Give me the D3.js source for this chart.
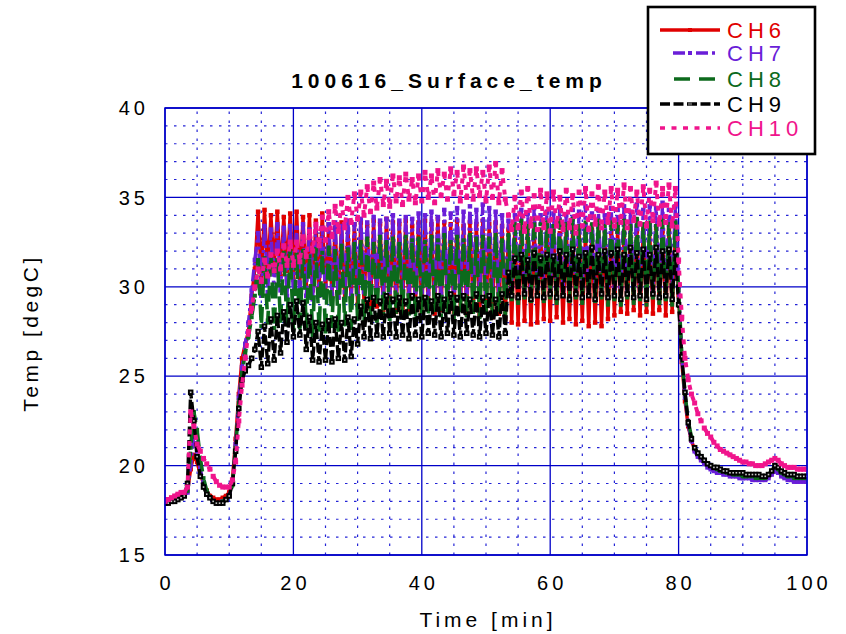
<!DOCTYPE html>
<html>
<head>
<meta charset="utf-8">
<script src="https://cdnjs.cloudflare.com/ajax/libs/d3/7.8.5/d3.min.js"></script>
<style>
body { margin: 0; background: #fff; }
#chart { width: 846px; height: 634px; }
text { font-family: "Liberation Sans", Arial, sans-serif; }
</style>
</head>
<body>
<div id="chart"></div>
<script>
// one sample every half minute, from 0 to 100 min
var timeStep = 0.5;

var ch6 = [
    18.1, 18.1, 18.2, 18.2, 18.2, 18.3, 18.4, 18.6, 19.8, 20.6, 20.2, 19.5, 19.0, 18.6, 18.3, 18.2, 18.1, 18.1, 18.2, 18.3,
    18.5, 19.2, 21.5, 24.0, 26.0, 26.8, 27.5, 29.5, 31.0, 34.2, 30.5, 34.3, 30.8, 34.0, 31.0, 34.2, 30.6, 33.9, 30.9, 34.1,
    30.4, 34.2, 30.2, 33.9, 30.0, 34.0, 29.8, 33.7, 29.9, 34.1, 29.6, 33.5, 29.5, 33.3, 29.4, 33.6, 29.3, 33.2, 29.2, 33.5,
    29.0, 33.6, 29.1, 33.4, 28.8, 33.7, 28.9, 33.5, 28.7, 33.8, 28.9, 33.6, 28.6, 33.5, 28.8, 33.7, 28.7, 33.4, 28.9, 33.6,
    28.6, 33.7, 28.8, 33.5, 28.5, 33.8, 28.7, 33.6, 28.9, 33.5, 28.6, 33.7, 28.8, 33.4, 28.5, 33.6, 28.7, 33.5, 28.4, 33.7,
    28.6, 33.5, 28.3, 33.6, 28.5, 33.4, 28.2, 33.2, 28.0, 33.4, 27.9, 33.1, 28.1, 33.3, 27.9, 33.5, 28.0, 33.2, 28.2, 33.4,
    28.1, 33.3, 28.3, 33.0, 28.0, 33.4, 28.2, 33.1, 27.9, 33.3, 28.1, 33.0, 27.8, 33.2, 28.0, 32.9, 27.8, 33.1, 28.2, 33.0,
    28.4, 33.2, 28.6, 33.0, 28.5, 33.3, 28.7, 33.1, 28.4, 33.2, 28.6, 33.0, 28.5, 33.3, 28.7, 33.1, 28.4, 33.2, 28.6, 33.0,
    29.5, 25.8, 23.6, 22.2, 21.4, 20.9, 20.6, 20.4, 20.2, 20.1, 20.0, 19.9, 19.8, 19.7, 19.7, 19.6, 19.6, 19.5, 19.5, 19.5,
    19.4, 19.4, 19.4, 19.4, 19.3, 19.3, 19.3, 19.3, 19.4, 19.6, 19.8, 19.7, 19.5, 19.4, 19.4, 19.3, 19.3, 19.3, 19.3, 19.3,
    19.3
];

var ch7 = [
    18.1, 18.1, 18.1, 18.2, 18.2, 18.2, 18.3, 18.5, 20.0, 21.8, 20.8, 19.8, 19.0, 18.5, 18.2, 18.0, 17.9, 17.9, 18.0, 18.1,
    18.3, 19.0, 21.2, 23.8, 25.5, 26.8, 28.0, 29.8, 31.5, 33.0, 29.5, 33.4, 29.7, 33.2, 29.6, 33.5, 29.8, 33.3, 29.5, 33.4,
    29.6, 33.3, 29.4, 33.5, 29.5, 33.2, 29.3, 33.4, 29.5, 33.3, 29.4, 33.5, 29.6, 33.6, 29.4, 33.4, 29.7, 33.7, 29.5, 33.5,
    29.6, 33.8, 29.7, 33.6, 29.5, 33.9, 29.8, 33.7, 29.6, 33.8, 29.7, 34.0, 29.5, 33.7, 29.8, 33.9, 29.6, 33.8, 29.7, 34.1,
    29.7, 34.0, 29.6, 34.2, 29.8, 33.9, 29.6, 34.3, 29.7, 34.1, 29.8, 34.4, 29.6, 34.2, 29.7, 34.5, 29.8, 34.3, 29.6, 34.6,
    29.7, 34.4, 29.8, 34.2, 29.6, 34.0, 29.7, 33.7, 29.9, 34.0, 30.0, 34.3, 29.8, 34.1, 30.0, 34.4, 29.9, 34.0, 30.1, 34.2,
    29.9, 34.1, 30.0, 34.4, 29.8, 34.0, 30.1, 34.3, 29.9, 34.2, 30.0, 34.5, 29.8, 34.1, 30.0, 34.3, 29.9, 34.0, 30.1, 34.4,
    29.9, 34.3, 30.0, 34.5, 29.8, 34.2, 30.1, 34.6, 29.9, 34.3, 30.0, 34.5, 29.8, 34.4, 30.0, 34.7, 29.9, 34.3, 30.1, 34.5,
    30.0, 26.0, 23.8, 22.3, 21.4, 20.8, 20.5, 20.3, 20.1, 19.9, 19.8, 19.7, 19.6, 19.6, 19.5, 19.5, 19.4, 19.4, 19.4, 19.3,
    19.3, 19.3, 19.3, 19.2, 19.2, 19.2, 19.2, 19.2, 19.3, 19.5, 19.7, 19.6, 19.4, 19.3, 19.2, 19.2, 19.1, 19.1, 19.1, 19.1,
    19.1
];

var ch8 = [
    18.0, 18.0, 18.1, 18.1, 18.2, 18.2, 18.3, 18.6, 21.0, 23.0, 22.0, 20.4, 19.3, 18.6, 18.2, 18.0, 17.9, 17.9, 18.0, 18.1,
    18.3, 18.9, 21.0, 23.5, 25.2, 26.3, 27.2, 28.3, 29.5, 31.5, 27.8, 31.6, 28.0, 31.8, 27.7, 31.5, 28.1, 31.9, 27.9, 32.0,
    27.6, 31.8, 27.4, 32.0, 27.8, 31.7, 27.3, 32.1, 27.6, 31.9, 27.5, 32.2, 27.8, 32.0, 27.6, 32.3, 27.9, 32.1, 27.7, 32.4,
    28.2, 32.5, 28.0, 32.7, 28.4, 32.4, 28.1, 32.8, 28.5, 32.5, 28.2, 32.7, 28.6, 32.4, 28.3, 32.8, 28.5, 32.6, 28.2, 32.7,
    28.6, 32.5, 28.3, 32.8, 28.7, 32.6, 28.4, 32.9, 28.6, 32.5, 28.3, 32.8, 28.7, 32.6, 28.4, 32.9, 28.6, 32.7, 28.3, 32.8,
    28.6, 32.7, 28.4, 32.9, 28.7, 32.6, 28.5, 32.9, 29.3, 33.5, 29.1, 33.7, 29.4, 33.4, 29.2, 33.8, 29.5, 33.5, 29.2, 33.6,
    29.4, 33.4, 29.1, 33.7, 29.5, 33.5, 29.2, 33.8, 29.4, 33.4, 29.1, 33.6, 29.5, 33.5, 29.2, 33.7, 29.4, 33.4, 29.0, 33.6,
    29.3, 33.5, 29.0, 33.7, 29.4, 33.4, 29.1, 33.8, 29.3, 33.5, 29.0, 33.6, 29.4, 33.4, 29.1, 33.7, 29.3, 33.5, 29.0, 33.6,
    29.8, 26.2, 24.0, 22.5, 21.6, 21.0, 20.7, 20.5, 20.3, 20.1, 20.0, 19.9, 19.8, 19.7, 19.7, 19.6, 19.6, 19.5, 19.5, 19.5,
    19.4, 19.4, 19.4, 19.4, 19.3, 19.3, 19.3, 19.3, 19.5, 19.7, 19.9, 19.8, 19.6, 19.5, 19.4, 19.4, 19.3, 19.3, 19.3, 19.3,
    19.3
];

var ch9 = [
    17.9, 17.9, 18.0, 18.0, 18.1, 18.2, 18.3, 19.0, 24.1, 22.5, 20.5, 19.4, 18.8, 18.4, 18.2, 18.0, 17.9, 17.9, 17.9, 18.1,
    18.3, 19.0, 20.8, 23.2, 24.8, 25.3, 25.6, 26.0, 26.5, 27.5, 25.5, 27.8, 25.7, 28.2, 25.9, 28.4, 26.3, 28.6, 26.9, 29.0,
    27.2, 29.2, 27.3, 29.1, 26.5, 28.3, 25.9, 28.0, 25.8, 27.9, 25.9, 28.1, 25.8, 28.2, 26.0, 28.0, 25.9, 28.3, 26.1, 28.2,
    26.8, 28.9, 27.2, 29.3, 27.1, 29.4, 27.3, 29.2, 27.2, 29.5, 27.4, 29.3, 27.2, 29.4, 27.3, 29.2, 27.1, 29.5, 27.3, 29.3,
    27.2, 29.4, 27.4, 29.2, 27.3, 29.5, 27.2, 29.3, 27.4, 29.6, 27.3, 29.4, 27.2, 29.5, 27.4, 29.3, 27.3, 29.6, 27.2, 29.4,
    27.4, 29.5, 27.3, 29.3, 27.2, 29.6, 27.4, 30.8, 29.5, 31.6, 29.4, 31.8, 29.6, 31.5, 29.3, 31.9, 29.5, 31.6, 29.4, 31.8,
    29.6, 31.7, 29.4, 32.0, 29.5, 31.8, 29.3, 32.1, 29.6, 31.7, 29.4, 31.9, 29.5, 32.2, 29.3, 31.8, 29.6, 32.0, 29.4, 31.9,
    29.5, 32.1, 29.3, 31.8, 29.6, 32.2, 29.4, 31.9, 29.5, 32.1, 29.3, 31.8, 29.6, 32.2, 29.4, 32.0, 29.5, 32.1, 29.3, 31.9,
    29.0, 26.1, 24.1, 22.4, 21.5, 21.0, 20.7, 20.5, 20.3, 20.1, 20.0, 19.9, 19.9, 19.8, 19.7, 19.7, 19.6, 19.6, 19.6, 19.6,
    19.6, 19.5, 19.5, 19.5, 19.5, 19.5, 19.4, 19.4, 19.5, 19.7, 20.0, 19.9, 19.7, 19.6, 19.5, 19.5, 19.5, 19.4, 19.4, 19.4,
    19.4
];

var ch10 = [
    18.0, 18.1, 18.2, 18.3, 18.4, 18.5, 18.5, 18.8, 23.0, 22.2, 21.2, 20.8, 20.4, 20.1, 19.8, 19.4, 19.1, 18.9, 18.8, 18.8,
    18.8, 19.2, 20.2, 22.5, 24.5, 26.0, 27.5, 28.8, 30.0, 31.0, 30.3, 31.5, 30.6, 31.8, 30.9, 32.0, 31.0, 32.3, 31.2, 32.5,
    31.2, 32.5, 31.4, 32.8, 31.7, 33.1, 32.0, 33.5, 32.3, 33.9, 32.6, 34.2, 32.8, 34.5, 33.1, 34.7, 33.3, 35.0, 33.6, 35.2,
    33.8, 35.3, 34.0, 35.6, 34.2, 35.8, 34.4, 36.0, 34.6, 35.9, 34.5, 36.2, 34.8, 36.1, 34.6, 36.3, 34.9, 36.0, 34.7, 36.2,
    34.8, 36.4, 35.0, 36.2, 34.7, 36.5, 35.1, 36.3, 34.9, 36.6, 35.2, 36.4, 34.8, 36.7, 35.0, 36.5, 34.9, 36.6, 35.1, 36.4,
    34.8, 36.7, 35.0, 36.9, 34.7, 36.5, 34.9, 34.0, 33.2, 35.0, 33.3, 35.3, 33.1, 35.5, 33.4, 35.1, 33.2, 35.4, 33.3, 35.2,
    33.1, 35.3, 33.4, 35.0, 33.2, 35.4, 33.3, 35.1, 33.0, 35.3, 33.4, 35.5, 33.2, 35.2, 33.5, 35.6, 33.3, 35.3, 33.6, 35.5,
    33.4, 35.4, 33.6, 35.7, 33.3, 35.5, 33.7, 35.3, 33.5, 35.6, 33.4, 35.4, 33.7, 35.8, 33.5, 35.5, 33.6, 35.7, 33.4, 35.5,
    31.5, 28.3, 26.0, 24.8, 24.0, 23.5, 22.9, 22.5, 22.1, 21.8, 21.6, 21.3, 21.1, 20.9, 20.8, 20.7, 20.6, 20.5, 20.4, 20.3,
    20.2, 20.2, 20.1, 20.1, 20.0, 20.0, 20.0, 20.1, 20.2, 20.3, 20.4, 20.3, 20.1, 20.0, 19.9, 19.9, 19.9, 19.8, 19.8, 19.8,
    19.8
];

var seriesNames = ['CH6', 'CH7', 'CH8', 'CH9', 'CH10'];
var seriesValues = [ch6, ch7, ch8, ch9, ch10];
var xTicks = [0, 20, 40, 60, 80, 100];
var yTicks = [15, 20, 25, 30, 35, 40];


function SurfaceTempChart() {
    this.config = {
        width: 846,
        height: 634,
        plot: {left: 165, right: 807, top: 108, bottom: 555},
        xDomain: [0, 100],
        yDomain: [15, 40],
        grid: {major: '#0000c8', minor: '#2424d6'},
        styles: {
            CH6:  {color: '#e00000', dash: null,         width: 3.4, marker: 4.5, legend: [660, 720]},
            CH7:  {color: '#6a1ed8', dash: '12,4,3,4',   width: 3.4, marker: 4.5, legend: [673, 718]},
            CH8:  {color: '#0c6a1c', dash: '16,9',       width: 3.6, marker: 4,   legend: [674, 718]},
            CH9:  {color: '#000000', dash: '10,3.5',     width: 3.4, marker: 5.5, legend: [660, 720]},
            CH10: {color: '#f0148c', dash: '5,6.5',      width: 4,   marker: 5,   legend: [660, 720]}
        },
        legend: {x: 648, y: 7, width: 167, height: 147, rows: [30, 53, 79, 104, 128], textX: 727}
    };

    this.elements = {
        svg: null,
        plot: null
    };
    this.scales = {x: null, y: null};
}

SurfaceTempChart.prototype.init = function(element) {
    var c = this.config;
    this.elements.svg = d3.select(element).append('svg')
        .attr('width', c.width)
        .attr('height', c.height);
    this.scales.x = d3.scaleLinear().domain(c.xDomain).range([c.plot.left, c.plot.right]);
    this.scales.y = d3.scaleLinear().domain(c.yDomain).range([c.plot.bottom, c.plot.top]);

    this.elements.svg.append('defs').append('clipPath').attr('id', 'plot-clip')
        .append('rect')
        .attr('x', c.plot.left)
        .attr('y', c.plot.top)
        .attr('width', c.plot.right - c.plot.left)
        .attr('height', c.plot.bottom - c.plot.top);
};

SurfaceTempChart.prototype.draw = function() {
    this.drawGrid();
    this.drawSeries();
    this.drawAxes();
    this.drawLegend();
};



// creators

SurfaceTempChart.prototype.drawGrid = function() {
    var c = this.config,
        x = this.scales.x,
        y = this.scales.y,
        g = this.elements.svg.append('g').attr('class', 'grid');

    // minor dotted lines, 5 min and 1 degC apart
    g.selectAll('.minor-x').data(x.ticks(20).filter(function(d) { return xTicks.indexOf(d) < 0; }))
        .enter().append('line')
        .attr('x1', function(d) { return x(d); })
        .attr('x2', function(d) { return x(d); })
        .attr('y1', c.plot.bottom)
        .attr('y2', c.plot.top)
        .attr('stroke', c.grid.minor)
        .attr('stroke-width', 1.2)
        .attr('stroke-dasharray', '2.5,6.5');

    g.selectAll('.minor-y').data(y.ticks(25).filter(function(d) { return yTicks.indexOf(d) < 0; }))
        .enter().append('line')
        .attr('x1', c.plot.left)
        .attr('x2', c.plot.right)
        .attr('y1', function(d) { return y(d); })
        .attr('y2', function(d) { return y(d); })
        .attr('stroke', c.grid.minor)
        .attr('stroke-width', 1.2)
        .attr('stroke-dasharray', '2.5,6.5');

    g.selectAll('.major-x').data(xTicks).enter().append('line')
        .attr('x1', function(d) { return x(d); })
        .attr('x2', function(d) { return x(d); })
        .attr('y1', c.plot.bottom)
        .attr('y2', c.plot.top)
        .attr('stroke', c.grid.major)
        .attr('stroke-width', 1.3);

    g.selectAll('.major-y').data(yTicks).enter().append('line')
        .attr('x1', c.plot.left)
        .attr('x2', c.plot.right)
        .attr('y1', function(d) { return y(d); })
        .attr('y2', function(d) { return y(d); })
        .attr('stroke', c.grid.major)
        .attr('stroke-width', 1.3);
};

SurfaceTempChart.prototype.drawSeries = function() {
    var self = this,
        x = this.scales.x,
        y = this.scales.y,
        g = this.elements.svg.append('g').attr('clip-path', 'url(#plot-clip)'),
        line = d3.line()
            .x(function(d) { return x(d.t); })
            .y(function(d) { return y(d.v); });

    seriesNames.forEach(function(name, i) {
        var style = self.config.styles[name],
            points = seriesValues[i].map(function(v, j) { return {t: j * timeStep, v: v}; }),
            s = style.marker,
            sg = g.append('g').attr('class', 'series ' + name);

        sg.append('path')
            .datum(points)
            .attr('d', line)
            .attr('fill', 'none')
            .attr('stroke', style.color)
            .attr('stroke-width', style.width)
            .attr('stroke-dasharray', style.dash)
            .attr('stroke-linejoin', 'round');

        sg.selectAll('rect.marker').data(points).enter().append('rect')
            .attr('class', 'marker')
            .attr('x', function(d) { return x(d.t) - s / 2; })
            .attr('y', function(d) { return y(d.v) - s / 2; })
            .attr('width', s)
            .attr('height', s)
            .attr('fill', style.color);

        if (name === 'CH9') {
            sg.selectAll('rect.hole').data(points).enter().append('rect')
                .attr('class', 'hole')
                .attr('x', function(d) { return x(d.t) - 0.8; })
                .attr('y', function(d) { return y(d.v) - 0.8; })
                .attr('width', 1.6)
                .attr('height', 1.6)
                .attr('fill', '#c8c8c8');
        }
    });
};

SurfaceTempChart.prototype.drawAxes = function() {
    var c = this.config,
        x = this.scales.x,
        y = this.scales.y,
        svg = this.elements.svg;

    svg.append('rect')
        .attr('x', c.plot.left)
        .attr('y', c.plot.top)
        .attr('width', c.plot.right - c.plot.left)
        .attr('height', c.plot.bottom - c.plot.top)
        .attr('fill', 'none')
        .attr('stroke', c.grid.major)
        .attr('stroke-width', 1.5);

    svg.append('g').selectAll('text').data(yTicks).enter().append('text')
        .attr('x', c.plot.left - 16)
        .attr('y', function(d) { return y(d); })
        .attr('dy', '0.36em')
        .attr('text-anchor', 'end')
        .attr('font-size', 20)
        .attr('letter-spacing', 4)
        .text(function(d) { return d; });

    svg.append('g').selectAll('text').data(xTicks).enter().append('text')
        .attr('x', function(d) { return x(d) + 2; })
        .attr('y', 590)
        .attr('text-anchor', 'middle')
        .attr('font-size', 20)
        .attr('letter-spacing', 4)
        .text(function(d) { return d; });

    svg.append('text')
        .attr('x', 488)
        .attr('y', 627)
        .attr('text-anchor', 'middle')
        .attr('font-size', 21)
        .attr('letter-spacing', 4)
        .text('Time [min]');

    svg.append('text')
        .attr('transform', 'translate(38,333) rotate(-90)')
        .attr('text-anchor', 'middle')
        .attr('font-size', 21)
        .attr('letter-spacing', 3.5)
        .text('Temp [degC]');

    svg.append('text')
        .attr('x', 449)
        .attr('y', 88)
        .attr('text-anchor', 'middle')
        .attr('font-size', 21)
        .attr('font-weight', 'bold')
        .attr('letter-spacing', 5)
        .text('100616_Surface_temp');
};

SurfaceTempChart.prototype.drawLegend = function() {
    var c = this.config,
        l = c.legend,
        g = this.elements.svg.append('g').attr('class', 'legend');

    g.append('rect')
        .attr('x', l.x)
        .attr('y', l.y)
        .attr('width', l.width)
        .attr('height', l.height)
        .attr('fill', '#fff')
        .attr('stroke', '#000')
        .attr('stroke-width', 2.6);

    seriesNames.forEach(function(name, i) {
        var style = c.styles[name],
            yy = l.rows[i];
        g.append('line')
            .attr('x1', style.legend[0])
            .attr('x2', style.legend[1])
            .attr('y1', yy)
            .attr('y2', yy)
            .attr('stroke', style.color)
            .attr('stroke-width', 3.4)
            .attr('stroke-dasharray', style.dash);
        if (name === 'CH6' || name === 'CH7' || name === 'CH9') {
            g.append('rect')
                .attr('x', 688)
                .attr('y', yy - 2)
                .attr('width', 4)
                .attr('height', 4)
                .attr('fill', name === 'CH9' ? '#555' : style.color);
        }
        g.append('text')
            .attr('x', l.textX)
            .attr('y', yy + 8)
            .attr('font-size', 22)
            .attr('letter-spacing', 5)
            .attr('fill', style.color)
            .text(name);
    });
};


var chart = new SurfaceTempChart();
chart.init('#chart');
chart.draw();
</script>
</body>
</html>
